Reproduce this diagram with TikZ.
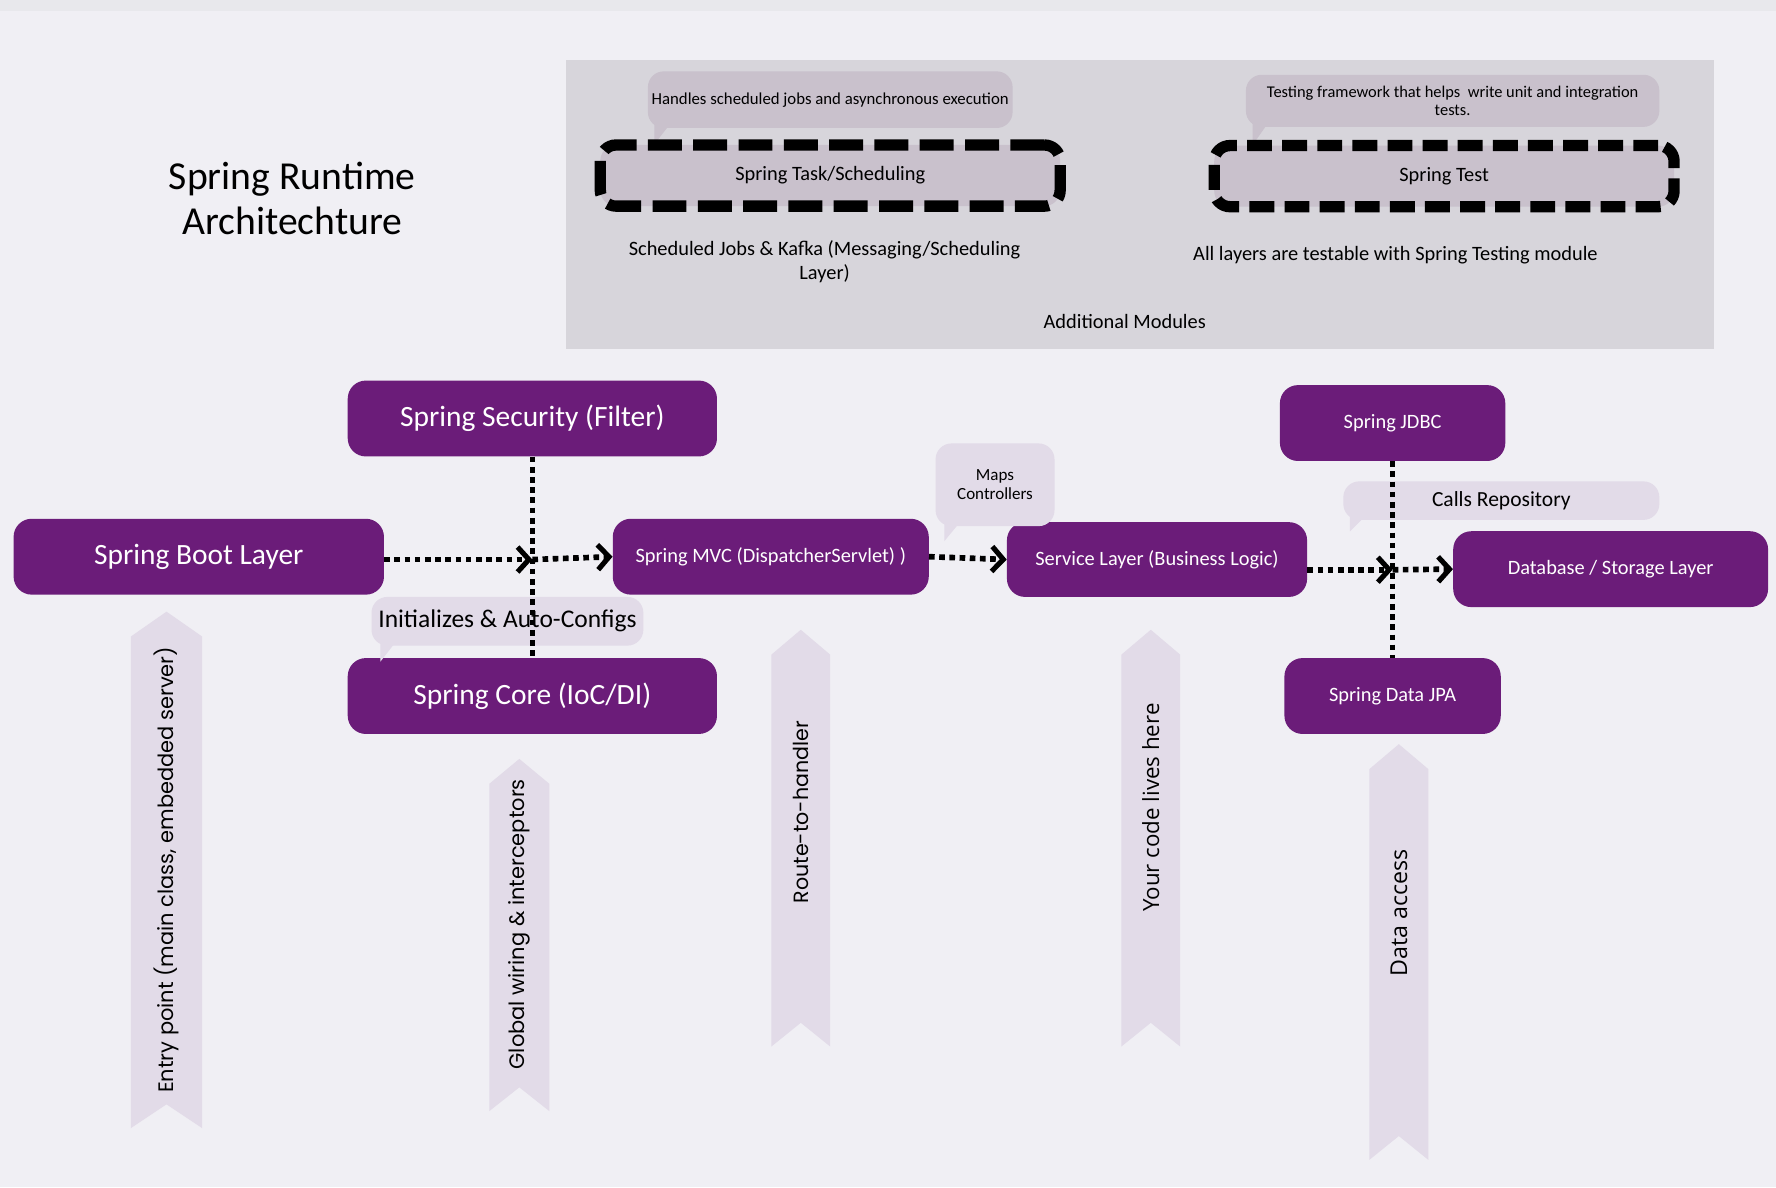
\documentclass[tikz,border=0pt]{standalone}
\usepackage{fontspec}
\setmainfont{Carlito}
\newfontfamily\ribfont{Poppins}
\newfontfamily\osfont{Open Sans}
\usetikzlibrary{arrows.meta}

\definecolor{bgcol}{HTML}{F0EFF4}
\definecolor{topband}{HTML}{E8E8EC}
\definecolor{panelcol}{HTML}{D7D5DB}
\definecolor{modfill}{HTML}{C9C1CC}
\definecolor{springpurple}{HTML}{6B1C79}
\definecolor{softcol}{HTML}{E2DBE8}

\begin{document}
\begin{tikzpicture}[x=1pt,y=-1pt,
    layer/.style={fill=springpurple,text=white,rounded corners=16pt,inner sep=0pt,
      font=\fontsize{26pt}{30pt}\selectfont},
    smalllayer/.style={layer,font=\fontsize{18pt}{21pt}\selectfont},
    module/.style={fill=modfill,draw=black,line width=10pt,rounded corners=14pt,inner sep=0pt,
      minimum width=406pt,minimum height=54pt,font=\fontsize{18pt}{21pt}\selectfont},
    bubble/.style={fill=modfill,rounded corners=14pt,inner sep=0pt,align=center,
      font=\fontsize{14.8pt}{17pt}\selectfont},
    softbubble/.style={bubble,fill=softcol},
    flow/.style={line width=5pt,dash pattern=on 5pt off 4pt},
    >={Straight Barb[length=10pt,width=22pt,line width=4.5pt]}]
  \useasboundingbox (0,0) rectangle (1568,1048);
  \fill[bgcol] (0,0) rectangle (1568,1048);
  \fill[topband] (0,0) rectangle (1568,10);

  % title
  \node[align=center,font=\fontsize{35pt}{40pt}\selectfont] (title) at (258,175)
    {Spring Runtime\\Architechture};

  % additional modules
  \fill[panelcol] (500,53) rectangle (1513,308);
  \node[bubble,minimum width=322pt,minimum height=50pt] (taskbub) at (733,88)
    {Handles scheduled jobs and asynchronous execution};
  \fill[modfill] (taskbub.south west) ++(6,-4) -- ++(14,0) -- ++(-14,18) -- cycle;
  \node[bubble,minimum width=365pt,minimum height=46pt,font=\fontsize{14.5pt}{16pt}\selectfont]
    (testbub) at (1282.5,89) {Testing framework that helps\ \ write unit and integration\\tests.};
  \fill[modfill] (testbub.south west) ++(6,-4) -- ++(14,0) -- ++(-14,20) -- cycle;
  \node[module,dash pattern=on 30pt off 10pt] (task) at (733,155) {Spring Task/Scheduling};
  \node[module,dash pattern=on 22pt off 9pt] (test) at (1275,155.5) {Spring Test};
  \node[align=center,font=\fontsize{18pt}{21pt}\selectfont] (tasktxt) at (728,231)
    {Scheduled Jobs \& Kafka (Messaging/Scheduling\\Layer)};
  \node[font=\fontsize{18pt}{21pt}\selectfont] (testtxt) at (1232,225)
    {All layers are testable with Spring Testing module};
  \node[font=\fontsize{18pt}{21pt}\selectfont] (modtxt) at (993,284) {Additional Modules};

  % ribbons
  \foreach \cx/\hw/\ya/\yb/\ty/\fnt/\fsz/\lab [count=\i] in {
      147/31.5/540/996/768/\ribfont/18.5/{Entry point (main class, embedded server)},
      458.5/26.5/670/981/816/\ribfont/18.5/{Global wiring \& interceptors},
      707/26/556/924/717/\ribfont/18.2/{Route-to-handler},
      1016/26/556/924/713/\osfont/19.7/{Your code lives here},
      1235/26/657/1024/806/\osfont/20.5/{Data access}} {
    \fill[softcol] (\cx,\ya) -- ({\cx+\hw},{\ya+22}) -- ({\cx+\hw},\yb) -- (\cx,{\yb-21})
      -- ({\cx-\hw},\yb) -- ({\cx-\hw},{\ya+22}) -- cycle;
    \node[rotate=90,font={\fnt\fontsize{\fsz pt}{20pt}\selectfont}] (rib\i) at (\cx,\ty) {\lab};
  }

  % layers
  \node[layer,minimum width=326pt,minimum height=67pt] (sec) at (470,369.5) {Spring Security (Filter)};
  \node[layer,minimum width=327pt,minimum height=67pt] (boot) at (175.5,491.5) {Spring Boot Layer};
  \node[smalllayer,minimum width=279pt,minimum height=67pt] (mvc) at (680.5,491.5) {Spring MVC (DispatcherServlet) )};
  \node[layer,minimum width=326pt,minimum height=67pt] (core) at (470,614.5) {Spring Core (IoC/DI)};
  \node[smalllayer,minimum width=265pt,minimum height=66pt] (svc) at (1021.5,494) {Service Layer (Business Logic)};
  \node[smalllayer,minimum width=199pt,minimum height=67pt] (jdbc) at (1229.5,373.5) {Spring JDBC};
  \node[smalllayer,minimum width=278pt,minimum height=67pt] (db) at (1422,502.5) {Database / Storage Layer};
  \node[smalllayer,minimum width=191pt,minimum height=67pt] (jpa) at (1229.5,614.5) {Spring Data JPA};

  % bubbles on the flow
  \node[softbubble,minimum width=240pt,minimum height=43pt,font=\fontsize{22.5pt}{26pt}\selectfont]
    (initbub) at (448,548.5) {Initializes \& Auto-Configs};
  \fill[softcol] (initbub.south west) ++(8,-4) -- ++(14,0) -- ++(-14,18) -- cycle;
  \node[softbubble,minimum width=105pt,minimum height=73pt,font=\fontsize{15pt}{17pt}\selectfont]
    (mapbub) at (878.5,428) {Maps\\Controllers};
  \fill[softcol] (mapbub.south west) ++(8,-4) -- ++(14,0) -- ++(-14,17) -- cycle;
  \node[softbubble,minimum width=279pt,minimum height=34pt,font=\fontsize{19pt}{22pt}\selectfont]
    (callbub) at (1325.5,442) {Calls Repository};
  \fill[softcol] (callbub.south west) ++(6,-4) -- ++(14,0) -- ++(-14,14) -- cycle;

  % connectors
  \coordinate (j1) at (470,494);
  \coordinate (j2) at (1229.5,503);
  \draw[flow] (sec.south) -- (core.north);
  \draw[flow] (jdbc.south) -- (jpa.north);
  \draw[flow,->] (boot.east |- j1) -- (j1);
  \draw[flow,->] (j1) -- (mvc.west);
  \draw[flow,->] (mvc.east) -- (svc.west);
  \draw[flow,->] (svc.east |- j2) -- (j2);
  \draw[flow,->] (j2) -- (db.west);
\end{tikzpicture}
\end{document}
